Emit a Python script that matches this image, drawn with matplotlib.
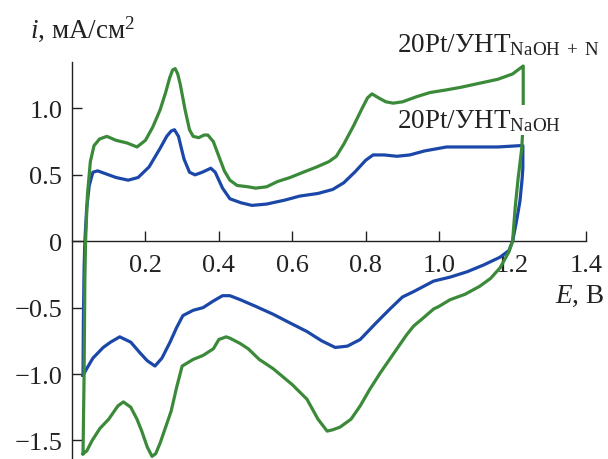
import matplotlib
matplotlib.use("Agg")
import matplotlib.pyplot as plt

plt.rcParams['font.family'] = ['Liberation Serif', 'DejaVu Serif']
plt.rcParams['mathtext.fontset'] = 'custom'
plt.rcParams['mathtext.rm'] = 'Liberation Serif'
plt.rcParams['mathtext.it'] = 'Liberation Serif:italic'

# ---- data ----
green_E = [0.030, 0.033, 0.035, 0.037, 0.042, 0.050, 0.060, 0.075, 0.095, 0.12, 0.15, 0.177,
           0.20, 0.22, 0.24, 0.255, 0.266, 0.274, 0.281, 0.288, 0.295, 0.308, 0.32, 0.33, 0.345, 0.36, 0.37,
           0.385, 0.40, 0.415, 0.43, 0.45, 0.48, 0.50, 0.53, 0.56, 0.594, 0.63, 0.667, 0.70,
           0.72, 0.74, 0.767, 0.79, 0.805, 0.817, 0.835, 0.855, 0.875, 0.90, 0.94, 0.975,
           1.02, 1.06, 1.11, 1.16, 1.20, 1.229,
           1.229, 1.228, 1.225, 1.215, 1.207, 1.200,
           1.19, 1.166, 1.14, 1.11, 1.07, 1.03, 1.0, 0.985, 0.96, 0.93, 0.91, 0.875, 0.84,
           0.81, 0.785, 0.76, 0.73, 0.71, 0.695, 0.67, 0.64, 0.60, 0.548, 0.51, 0.48, 0.458,
           0.43, 0.42, 0.40, 0.385, 0.357, 0.33, 0.30, 0.285, 0.27, 0.26, 0.24, 0.228,
           0.218, 0.205, 0.19, 0.177, 0.16, 0.14, 0.125, 0.10, 0.076, 0.055, 0.04, 0.030]
green_i = [-1.60, -1.0, -0.3, 0.0, 0.35, 0.60, 0.72, 0.77, 0.79, 0.76, 0.74, 0.71,
           0.76, 0.86, 0.99, 1.12, 1.23, 1.29, 1.30, 1.26, 1.18, 0.99, 0.84, 0.79, 0.78, 0.80, 0.80,
           0.75, 0.64, 0.53, 0.46, 0.42, 0.41, 0.40, 0.41, 0.45, 0.48, 0.52, 0.56, 0.60,
           0.64, 0.73, 0.87, 1.00, 1.08, 1.11, 1.08, 1.05, 1.04, 1.05, 1.09, 1.12,
           1.14, 1.16, 1.19, 1.22, 1.26, 1.32,
           1.0, 0.85, 0.70, 0.47, 0.25, 0.0,
           -0.08, -0.20, -0.28, -0.34, -0.40, -0.44, -0.49, -0.51, -0.57, -0.64, -0.71, -0.85, -0.99,
           -1.12, -1.24, -1.34, -1.40, -1.42, -1.43, -1.34, -1.19, -1.08, -0.96, -0.89, -0.81, -0.77,
           -0.73, -0.72, -0.74, -0.81, -0.86, -0.89, -0.94, -1.10, -1.28, -1.36, -1.52, -1.60,
           -1.62, -1.55, -1.43, -1.34, -1.25, -1.21, -1.24, -1.34, -1.41, -1.50, -1.58, -1.60]

blue_E = [0.030, 0.031, 0.033, 0.035, 0.040, 0.047, 0.057, 0.07, 0.09, 0.12, 0.153, 0.18,
          0.21, 0.24, 0.258, 0.270, 0.279, 0.29, 0.305, 0.32, 0.335, 0.355, 0.378, 0.39, 0.41,
          0.43, 0.46, 0.49, 0.53, 0.58, 0.62, 0.67, 0.71, 0.74, 0.77, 0.80, 0.82, 0.85,
          0.885, 0.92, 0.96, 1.02, 1.10, 1.16, 1.22, 1.228,
          1.228, 1.226, 1.22, 1.21, 1.20,
          1.19, 1.166, 1.12, 1.076, 1.03, 0.985, 0.93, 0.90, 0.866, 0.83, 0.785, 0.75,
          0.717, 0.68, 0.64, 0.59, 0.548, 0.50, 0.458, 0.43, 0.41, 0.385, 0.357, 0.33,
          0.302, 0.285, 0.267, 0.245, 0.226, 0.205, 0.185, 0.16, 0.13, 0.105, 0.085,
          0.057, 0.040, 0.030]
blue_i = [-1.01, -0.6, -0.2, 0.0, 0.25, 0.42, 0.52, 0.53, 0.51, 0.48, 0.46, 0.48,
          0.56, 0.70, 0.79, 0.83, 0.84, 0.79, 0.62, 0.52, 0.50, 0.52, 0.55, 0.52, 0.40,
          0.32, 0.29, 0.27, 0.28, 0.31, 0.34, 0.36, 0.39, 0.44, 0.52, 0.61, 0.65, 0.65,
          0.64, 0.65, 0.68, 0.71, 0.71, 0.71, 0.72, 0.72,
          0.55, 0.47, 0.30, 0.14, 0.0,
          -0.07, -0.12, -0.18, -0.23, -0.27, -0.30, -0.38, -0.42, -0.51, -0.61, -0.74, -0.79,
          -0.80, -0.75, -0.68, -0.61, -0.55, -0.49, -0.44, -0.41, -0.41, -0.45, -0.50, -0.52,
          -0.56, -0.65, -0.76, -0.88, -0.94, -0.90, -0.84, -0.76, -0.72, -0.76, -0.80,
          -0.88, -0.96, -1.01]

x_ticks = [0.2, 0.4, 0.6, 0.8, 1.0, 1.2, 1.4]
x_ticklabels = ["0.2", "0.4", "0.6", "0.8", "1.0", "1.2", "1.4"]
y_ticks = [-1.5, -1.0, -0.5, 0, 0.5, 1.0]
y_ticklabels = ["\u22121.5", "\u22121.0", "\u22120.5", "0", "0.5", "1.0"]

label_green = "20Pt/УНТ$_{\\mathrm{NaOH\\ +\\ N}}$"
label_blue = "20Pt/УНТ$_{\\mathrm{NaOH}}$"

green_color = "#3b8a3a"
blue_color = "#1b48a8"

W, H = 608, 460
fig = plt.figure(figsize=(W / 100, H / 100), dpi=100)
ax = fig.add_axes([72 / W, 0.0, (586 - 72) / W, (460 - 63) / H])
ax.set_xlim(0, 1.4)
ax.set_ylim(-1.64, 1.35)

ax.plot(green_E, green_i, color=green_color, lw=2.3, solid_joinstyle='round', zorder=3, clip_on=False)
ax.plot(blue_E, blue_i, color=blue_color, lw=2.3, solid_joinstyle='round', zorder=2, clip_on=False)

for s in ['top', 'right']:
    ax.spines[s].set_visible(False)
ax.spines['bottom'].set_position(('data', 0))
ax.spines['left'].set_position(('data', 0))
for s in ['bottom', 'left']:
    ax.spines[s].set_linewidth(1.0)
    ax.spines[s].set_color('#222222')

ax.set_xticks(x_ticks)
ax.set_xticklabels(x_ticklabels)
ax.set_yticks(y_ticks)
ax.set_yticklabels(y_ticklabels)
ax.tick_params(axis='x', direction='in', length=7, width=1.0, pad=9, labelsize=19, colors='#222222')
ax.tick_params(axis='y', direction='in', length=7, width=1.0, pad=7, labelsize=19, colors='#222222')

fig.text(30 / W, 1 - 38 / H, "$i$, мА/см$^{2}$", fontsize=19.5, ha='left', va='baseline', color='#222222')
fig.text(555 / W, 1 - 303 / H, "$E$, В", fontsize=19.5, ha='left', va='baseline', color='#222222')

fig.text(397 / W, 1 - 52 / H, label_green, fontsize=19.5, ha='left', va='baseline', color='#222222', zorder=5)
fig.text(397 / W, 1 - 128 / H, label_blue, fontsize=19.5, ha='left', va='baseline', color='#222222', zorder=5,
         bbox=dict(facecolor='white', edgecolor='none', pad=1.5))

fig.savefig("out.png", dpi=100)
